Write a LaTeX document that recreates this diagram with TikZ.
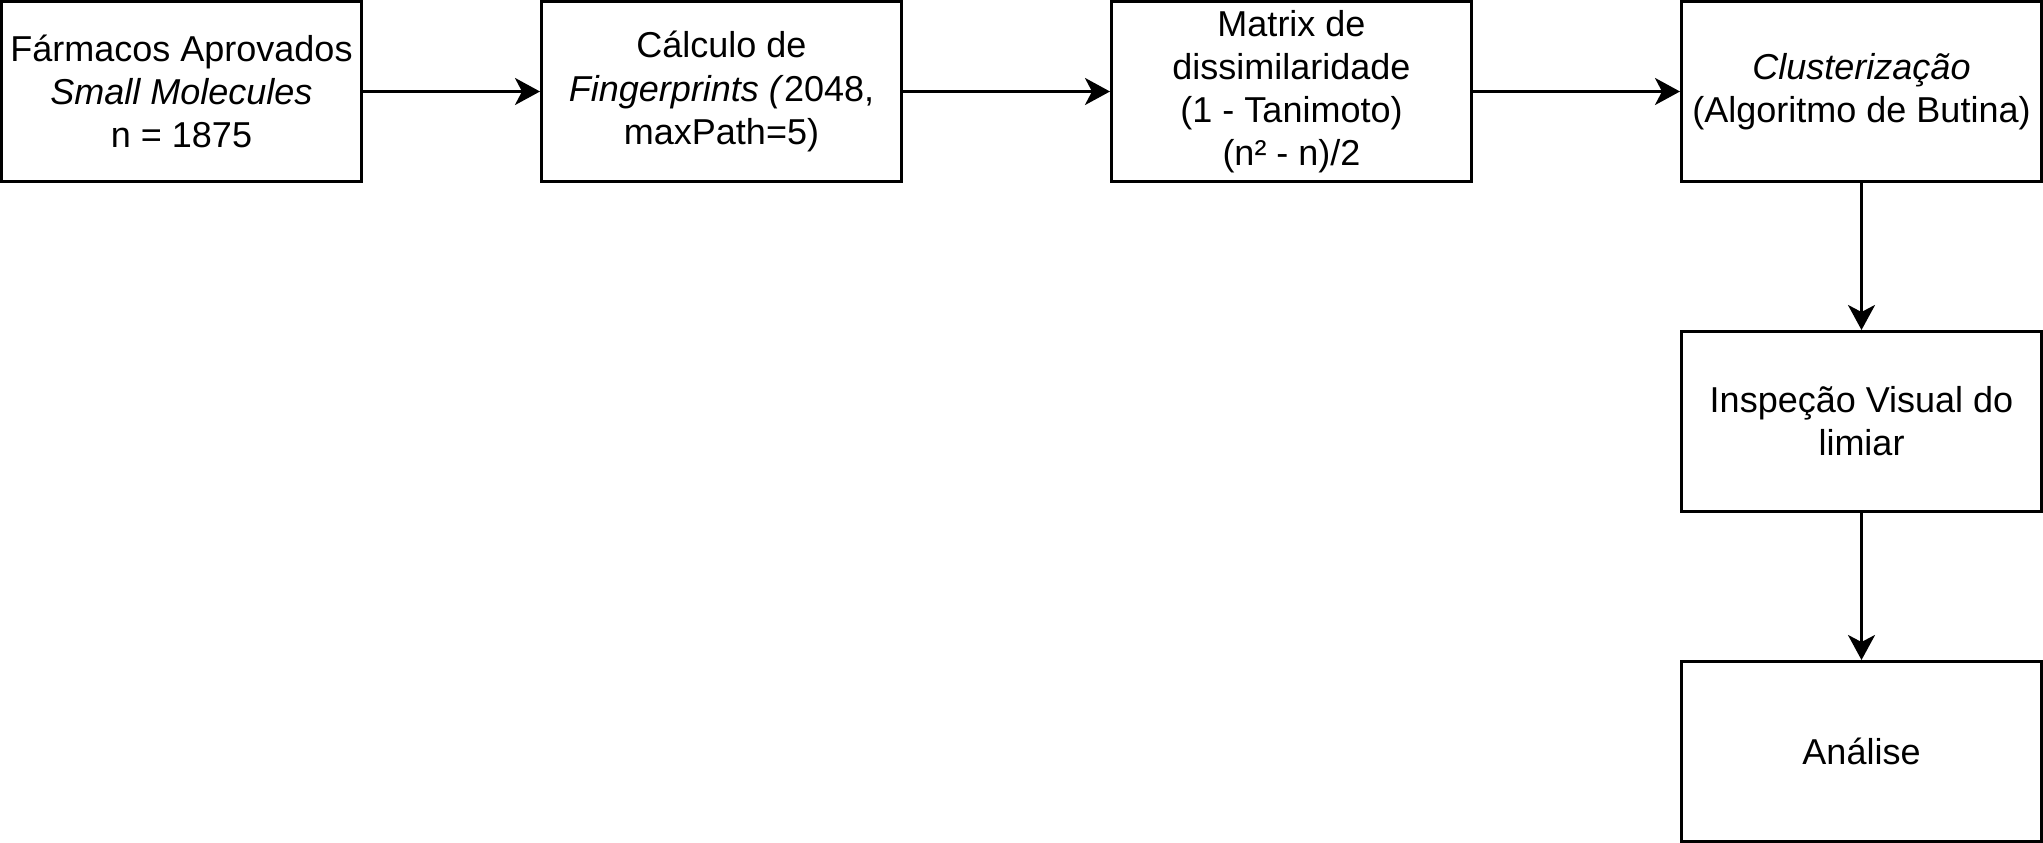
\documentclass[tikz,border=0pt]{standalone}
\usepackage{fontspec}
\setmainfont{Liberation Sans}
\usetikzlibrary{arrows.meta}
\begin{document}
\begin{tikzpicture}[x=1pt,y=-1pt,
  box/.style={draw=black, line width=3pt, minimum width=360pt, minimum height=180pt, inner sep=0pt, align=center, font=\fontsize{36}{43.2}\selectfont},
  conn/.style={line width=3pt, -{Stealth[length=25pt,width=27pt,inset=7pt]}}]
\useasboundingbox (0,0) rectangle (2043,843);
\node[box] (b1) at (181.5,91.5) {Fármacos Aprovados\\\textit{Small Molecules}\\n = 1875};
\node[box] (b2) at (721.5,91.5) {Cálculo de\\\textit{Fingerprints (}2048,\\maxPath=5)};
\node[box] (b3) at (1291.5,91.5) {Matrix de\\dissimilaridade\\(1 - Tanimoto)\\(n² - n)/2};
\node[box] (b4) at (1861.5,91.5) {\textit{Clusterização}\\(Algoritmo de Butina)};
\node[box] (b5) at (1861.5,421.5) {Inspeção Visual do\\limiar};
\node[box] (b6) at (1861.5,751.5) {Análise};
\draw[conn] (b1) -- (b2);
\draw[conn] (b2) -- (b3);
\draw[conn] (b3) -- (b4);
\draw[conn] (b4) -- (b5);
\draw[conn] (b5) -- (b6);
\end{tikzpicture}
\end{document}
